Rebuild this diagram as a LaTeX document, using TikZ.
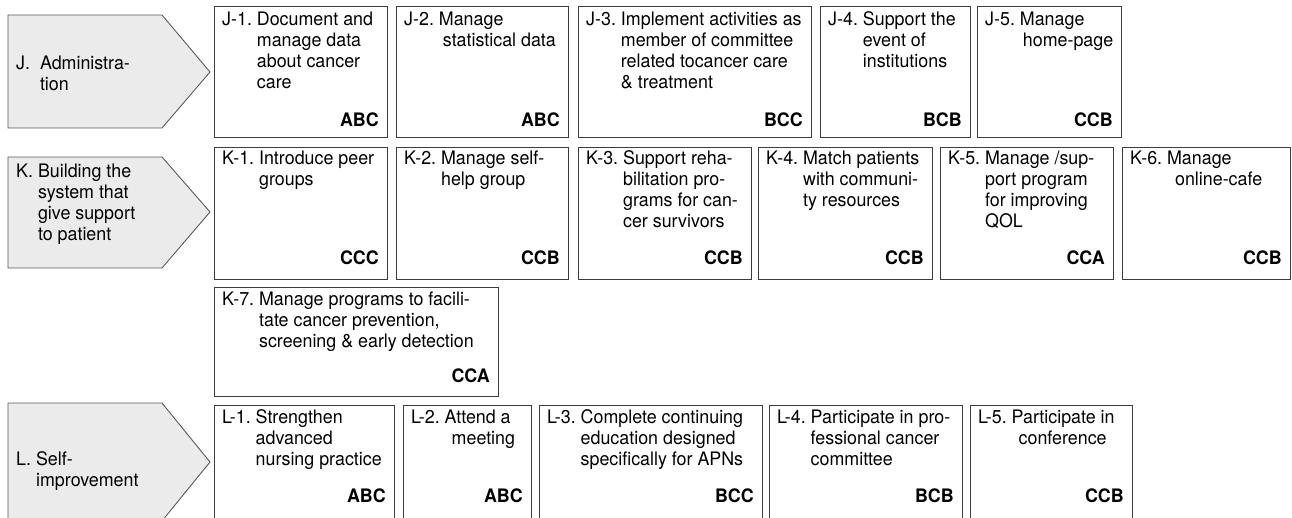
\documentclass[tikz,border=0pt]{standalone}
\usepackage{fontspec}
\setmainfont{TeX Gyre Heros}[FakeStretch=0.96]
\definecolor{boxline}{HTML}{3C3C3C}
\definecolor{arrline}{HTML}{5A5A5A}
\definecolor{arrfill}{HTML}{EBEBEB}
\tikzset{
  itembox/.style={draw=boxline, line width=0.9pt, inner sep=0pt, rectangle},
  itemtext/.style={inner sep=0pt, font=\fontsize{18.6}{21}\selectfont},
  itemlab/.style={inner sep=0pt, font=\fontsize{18.6}{21}\selectfont\bfseries},
  arrowshape/.style={draw=arrline, fill=arrfill, line width=0.9pt, line join=miter},
}
% #1 name, #2 x1, #3 y1, #4 x2, #5 y2, #6 first baseline offset, #7 rows, #8 label offset from bottom, #9 label
\newcommand{\itembox}[9]{%
  \node[itembox, minimum width={#4-#2}, minimum height={#5-#3}, anchor=north west] (#1) at (#2,#3) {};
  \node[itemtext, anchor=base west] (#1t) at ([shift={(8,#6)}]#1.north west)
    {\begin{tabular}[t]{@{}l@{\ }l@{}}#7\end{tabular}};
  \node[itemlab, anchor=base east] (#1l) at ([shift={(-9,-#8)}]#1.south east) {#9};
}
\begin{document}
\begin{tikzpicture}[x=1pt,y=-1pt]
\useasboundingbox (0,0) rectangle (1292,517);
\clip (0,0) rectangle (1292,517);

% category arrows
\draw[arrowshape] (8,15) -- (162,15) -- (210,72) -- (162,128) -- (8,128) -- cycle;
\draw[arrowshape] (8,157) -- (162,157) -- (210,212) -- (162,268) -- (8,268) -- cycle;
\draw[arrowshape] (8,403) -- (162,403) -- (210,462) -- (162,521) -- (8,521) -- cycle;

\node[itemtext, anchor=base west] (Jcat) at (16,69)
  {\begin{tabular}[t]{@{}l@{\ \ }l@{}}J. & Administra-\\ & tion\end{tabular}};
\node[itemtext, anchor=base west] (Kcat) at (16,177)
  {\begin{tabular}[t]{@{}l@{\ }l@{}}K. & Building the\\ & system that\\ & give support\\ & to patient\end{tabular}};
\node[itemtext, anchor=base west] (Lcat) at (16,465)
  {\begin{tabular}[t]{@{}l@{\ }l@{}}L. & Self-\\ & improvement\end{tabular}};

% J row
\itembox{J1}{214}{6}{387}{137}{19}{J-1. & Document and\\ & manage data\\ & about cancer\\ & care}{11}{ABC}
\itembox{J2}{396}{6}{568}{137}{19}{J-2. & Manage\\ & \hspace{4pt}statistical data}{11}{ABC}
\itembox{J3}{578}{6}{811}{137}{19}{J-3. & Implement activities as\\ & member of committee\\ & related tocancer care\\ & \& treatment}{11}{BCC}
\itembox{J4}{820}{6}{970}{137}{19}{J-4. & Support the\\ & event of\\ & institutions}{11}{BCB}
\itembox{J5}{977}{6}{1121}{137}{19}{J-5. & Manage\\ & \hspace{3pt}home-page}{11}{CCB}

% K row
\itembox{K1}{214}{147}{387}{279}{17}{K-1. & Introduce peer\\ & groups}{15}{CCC}
\itembox{K2}{396}{147}{568}{279}{17}{K-2. & Manage self-\\ & help group}{15}{CCB}
\itembox{K3}{578}{147}{751}{279}{17}{K-3. & Support reha-\\ & bilitation pro-\\ & grams for can-\\ & cer survivors}{15}{CCB}
\itembox{K4}{758}{147}{932}{279}{17}{K-4. & Match patients\\ & with communi-\\ & ty resources}{15}{CCB}
\itembox{K5}{940}{147}{1113}{279}{17}{K-5. & Manage /sup-\\ & port program\\ & for improving\\ & QOL}{15}{CCA}
\itembox{K6}{1122}{147}{1290}{279}{17}{K-6. & Manage\\ & \hspace{8pt}online-cafe}{15}{CCB}
\itembox{K7}{214}{287}{498}{396}{18}{K-7. & Manage programs to facili-\\ & tate cancer prevention,\\ & screening \& early detection}{14}{CCA}

% L row
\itembox{L1}{214}{405}{394}{530}{18}{L-1. & Strengthen\\ & advanced\\ & nursing practice}{28}{ABC}
\itembox{L2}{403}{405}{531}{530}{18}{L-2. & Attend a\\ & \hspace{7pt}meeting}{28}{ABC}
\itembox{L3}{539}{405}{762}{530}{18}{L-3. & Complete continuing\\ & education designed\\ & specifically for APNs}{28}{BCC}
\itembox{L4}{769}{405}{962}{530}{18}{L-4. & Participate in pro-\\ & fessional cancer\\ & committee}{28}{BCB}
\itembox{L5}{970}{405}{1132}{530}{18}{L-5. & Participate in\\ & \hspace{7pt}conference}{28}{CCB}
\end{tikzpicture}
\end{document}
